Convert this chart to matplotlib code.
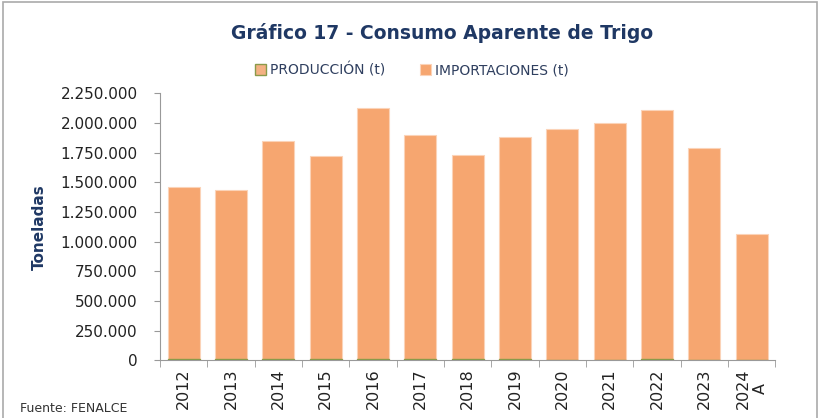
import matplotlib
matplotlib.use('Agg')
import matplotlib.pyplot as plt
from matplotlib.patches import Rectangle
from matplotlib.ticker import FuncFormatter
import numpy as np

years = ['2012', '2013', '2014', '2015', '2016', '2017', '2018',
         '2019', '2020', '2021', '2022', '2023', '2024\nA']
produccion = [15000, 14000, 12000, 9000, 13000, 8000, 7000,
              8000, 6000, 5000, 7000, 6000, 3000]
total = [1458000, 1435000, 1846000, 1719000, 2124000, 1901000, 1730000,
         1879000, 1947000, 2000000, 2109000, 1789000, 1062000]
importaciones = [t - p for t, p in zip(total, produccion)]

navy = '#1F3864'
orange = '#F6A670'

fig = plt.figure(figsize=(8.22, 4.18), dpi=100)
ax = fig.add_axes([160 / 822, 1 - 360.3 / 418, 615.3 / 822, 267 / 418])

x = np.arange(len(years))
ax.bar(x, produccion, width=0.68, color='#F4B183', edgecolor='#8A9A4A',
       linewidth=1, label='PRODUCCIÓN (t)', zorder=3)
ax.bar(x, importaciones, width=0.68, bottom=produccion, color=orange,
       edgecolor='#FBD3B8', linewidth=0.8, label='IMPORTACIONES (t)', zorder=2)

ax.set_xlim(-0.5, len(years) - 0.5)
ax.set_ylim(0, 2250000)
ax.set_yticks(np.arange(0, 2250001, 250000))
ax.yaxis.set_major_formatter(FuncFormatter(lambda v, p: f'{int(v):,}'.replace(',', '.')))
ax.set_xticks(x)
ax.set_xticklabels(years, rotation=90, fontsize=11.5, multialignment='center',
                   color='#222222')
ax.set_xticks(np.arange(-0.5, len(years)), minor=True)
ax.tick_params(axis='x', which='major', length=0, pad=6)
ax.tick_params(axis='x', which='minor', length=5, color='#999999')
ax.tick_params(axis='y', length=4, color='#999999', labelsize=11,
               labelcolor='#222222', pad=12)

for s in ['top', 'right']:
    ax.spines[s].set_visible(False)
for s in ['left', 'bottom']:
    ax.spines[s].set_color('#999999')

ax.set_ylabel('Toneladas', fontsize=11, fontweight='bold', color=navy, labelpad=10)

fig.text(0.538, 1 - 33 / 418, 'Gráfico 17 - Consumo Aparente de Trigo',
         ha='center', va='center', fontsize=13.5, fontweight='bold', color=navy)

ax.legend(loc='center', bbox_to_anchor=(412 / 822, 1 - 70 / 418),
          bbox_transform=fig.transFigure, ncol=2, frameon=False, fontsize=10,
          handlelength=0.8, handleheight=0.8, handletextpad=0.3, columnspacing=2.5,
          labelcolor='#2F3F5F')

fig.text(20 / 822, 1 - 408 / 418, 'Fuente: FENALCE', ha='left', va='center',
         fontsize=9, color='#333333')

fig.patches.append(Rectangle((3 / 822, -0.1), 814 / 822, 1 - 2 / 418 + 0.1,
                             transform=fig.transFigure, fill=False,
                             edgecolor='#AAAAAA', linewidth=1.2))

plt.savefig('out.png', dpi=100)
